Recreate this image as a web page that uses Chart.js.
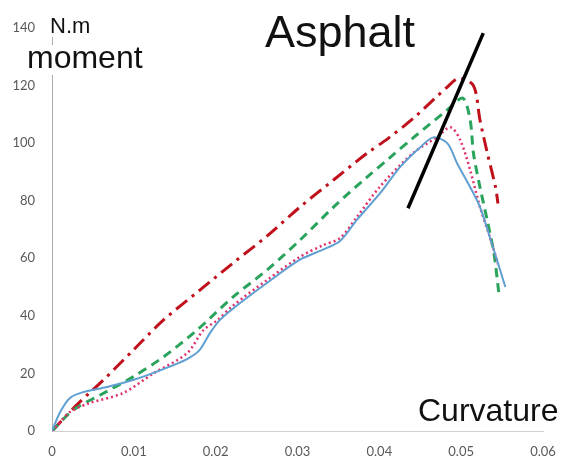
<!DOCTYPE html>
<html lang="en">
<head>
  <meta charset="UTF-8">
  <title>Asphalt moment - curvature</title>
  <script src="https://cdn.jsdelivr.net/npm/chart.js"></script>
  <style>
    body {
      margin: 0;
      background: white;
    }
    #wrap {
      width: 562px;
      height: 461px;
    }
  </style>
</head>
<body>
  <div id="wrap"><canvas id="momentChart" width="562" height="461"></canvas></div>

  <script>
    // Moment (N.m) against curvature, four specimens
    const curvSolid = [0, 0.001, 0.0022, 0.0038, 0.0067, 0.0099, 0.0136, 0.0165, 0.018, 0.0193, 0.0205, 0.0221, 0.0263, 0.0303, 0.0331, 0.0352, 0.0373, 0.0401, 0.0425, 0.045, 0.0466, 0.0483, 0.0495, 0.0511, 0.0523, 0.0535, 0.0554];
    const momentSolid = [0, 6.6, 11.5, 13.5, 15.3, 17.7, 21.5, 25, 28, 34, 38.5, 42.5, 51.5, 59.5, 63, 66, 73.5, 82.6, 91.6, 98.6, 102, 100, 93, 84.7, 77.8, 67.4, 50];

    const curvDotted = [0, 0.0022, 0.0046, 0.0087, 0.0124, 0.0165, 0.0185, 0.0202, 0.0221, 0.0263, 0.0303, 0.0331, 0.0352, 0.0373, 0.0401, 0.0441, 0.047, 0.0487, 0.0499, 0.0511, 0.0523, 0.0535, 0.0545];
    const momentDotted = [0, 6.6, 9.7, 13.2, 20, 27, 35, 38.5, 43.5, 52.5, 60.5, 64.5, 67, 74.5, 85, 96.5, 102, 105.5, 101, 90.6, 77.8, 67.4, 58];

    const curvDashed = [0, 0.0026, 0.0059, 0.0099, 0.0136, 0.0177, 0.0221, 0.0263, 0.0303, 0.0344, 0.0385, 0.0413, 0.0442, 0.0483, 0.0502, 0.0511, 0.0515, 0.0523, 0.0532, 0.054, 0.0546];
    const momentDashed = [0, 7.3, 12.5, 18.8, 25.7, 35, 46.5, 56, 66.3, 77.8, 88.2, 95, 102, 111.5, 115.6, 108, 96.5, 84.7, 73, 61.8, 48];

    const curvDashDot = [0, 0.003, 0.0062, 0.0099, 0.0136, 0.0181, 0.0221, 0.0263, 0.0303, 0.0344, 0.0385, 0.041, 0.0441, 0.0483, 0.0497, 0.0515, 0.0523, 0.0532, 0.0542, 0.0545];
    const momentDashDot = [0, 9, 17.5, 28, 38.5, 49, 58.3, 67.8, 77.8, 87.2, 96.5, 101.5, 108.5, 119.5, 122.5, 120, 108, 96.5, 84.7, 79];

    // peak marker line through the four maxima
    const curvPeakLine = [0.0435, 0.0527];
    const momentPeakLine = [77.4, 138.2];

    const curvTicks = [0, 0.01, 0.02, 0.03, 0.04, 0.05, 0.06];
    const momentTicks = [0, 20, 40, 60, 80, 100, 120, 140];

    function toPoints(xs, ys) {
      return xs.map((x, i) => ({ x: x, y: ys[i] }));
    }

    function lineSet(xs, ys, color, width, dash) {
      return {
        data: toPoints(xs, ys),
        showLine: true,
        borderColor: color,
        borderWidth: width,
        borderDash: dash,
        pointRadius: 0,
        fill: false,
        tension: 0.3
      };
    }

    // titles and axis captions drawn straight onto the canvas
    const captions = {
      id: 'captions',
      afterDraw(chart) {
        const ctx = chart.ctx;
        ctx.save();
        ctx.fillStyle = 'white';
        ctx.fillRect(48, 14, 60, 23);
        ctx.fillRect(25, 45, 124, 30);
        ctx.fillStyle = '#111';
        ctx.textBaseline = 'alphabetic';
        ctx.font = '22px "Liberation Sans", Arial, sans-serif';
        ctx.fillText('N.m', 50, 33);
        ctx.font = '32px "Liberation Sans", Arial, sans-serif';
        ctx.fillText('moment', 27, 68);
        ctx.font = '45px "Liberation Sans", Arial, sans-serif';
        ctx.fillText('Asphalt', 265, 47);
        ctx.font = '32px "Liberation Sans", Arial, sans-serif';
        ctx.fillText('Curvature', 418, 421);
        ctx.restore();
      }
    };

    const chart = new Chart(document.getElementById('momentChart'), {
      type: 'scatter',
      data: {
        datasets: [
          lineSet(curvPeakLine, momentPeakLine, '#000000', 3.5, []),
          lineSet(curvSolid, momentSolid, '#5f9fd2', 2, []),
          lineSet(curvDotted, momentDotted, '#e2306a', 2.5, [2, 3]),
          lineSet(curvDashed, momentDashed, '#2aa35c', 3, [9, 6]),
          lineSet(curvDashDot, momentDashDot, '#c0101c', 3, [14, 6, 3, 6])
        ]
      },
      options: {
        responsive: false,
        animation: false,
        layout: { padding: { left: 0, top: 28, right: 19, bottom: 0 } },
        plugins: {
          legend: { display: false },
          tooltip: { enabled: false }
        },
        scales: {
          x: {
            type: 'linear',
            min: curvTicks[0],
            max: curvTicks[curvTicks.length - 1],
            afterFit(scale) {
              scale.height = 30;
              scale.paddingLeft = 0;
              scale.paddingRight = 0;
            },
            afterBuildTicks(scale) { scale.ticks = curvTicks.map(v => ({ value: v })); },
            grid: { display: false, drawTicks: false },
            border: { display: true, color: '#d0d0d0', width: 1 },
            ticks: {
              padding: 13,
              color: '#595959',
              font: { family: 'Lato', size: 13 },
              callback: v => String(+v.toFixed(2))
            }
          },
          y: {
            type: 'linear',
            min: momentTicks[0],
            max: momentTicks[momentTicks.length - 1],
            afterFit(scale) {
              scale.width = 52;
              scale.paddingTop = 0;
              scale.paddingBottom = 0;
            },
            afterBuildTicks(scale) { scale.ticks = momentTicks.map(v => ({ value: v })); },
            grid: { display: false, drawTicks: false },
            border: { display: true, color: '#ababab', width: 1 },
            ticks: {
              padding: 17,
              color: '#595959',
              font: { family: 'Lato', size: 13 }
            }
          }
        }
      },
      plugins: [captions]
    });
  </script>
</body>
</html>
